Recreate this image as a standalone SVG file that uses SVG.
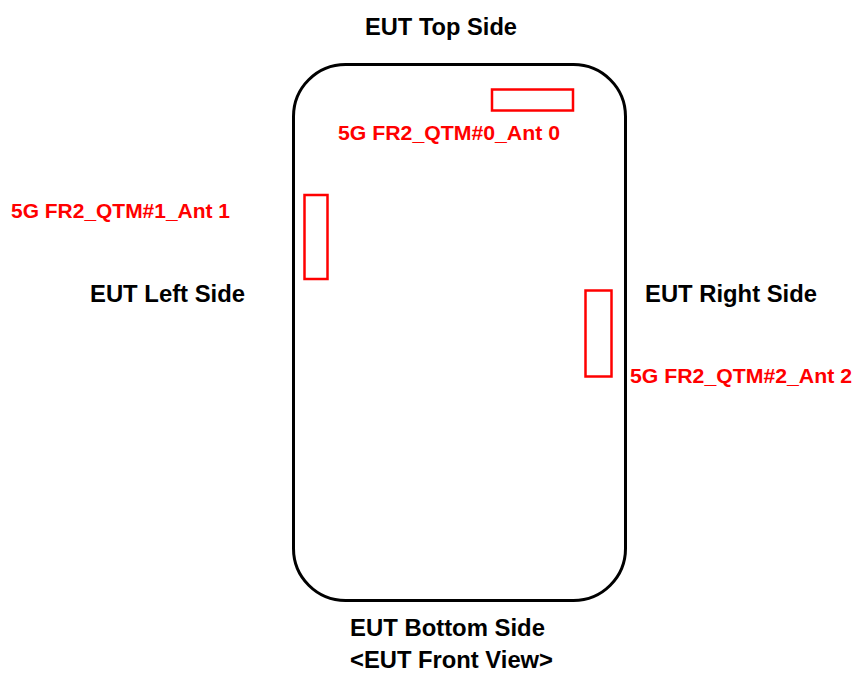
<svg xmlns="http://www.w3.org/2000/svg" width="856" height="673" viewBox="0 0 856 673">
<style>
.lbl{font-family:"Liberation Sans",Arial,sans-serif;font-weight:bold;font-size:23px;fill:#000}
.ant{font-family:"Liberation Sans",Arial,sans-serif;font-weight:bold;font-size:20px;fill:#ff0000}
.box{fill:none;stroke:#ff0000;stroke-width:2.5}
</style>
<rect width="856" height="673" fill="#fff"/>
<g id="eut">
<rect x="293.5" y="64.5" width="332" height="536" rx="52" ry="52" fill="none" stroke="#000" stroke-width="3"/>
</g>
<g id="ant0">
<rect class="box" x="492" y="89.5" width="81" height="21"/>
<text class="ant" x="338" y="139.5" textLength="222" lengthAdjust="spacingAndGlyphs">5G FR2_QTM#0_Ant 0</text>
</g>
<g id="ant1">
<rect class="box" x="304.5" y="195" width="23" height="84"/>
<text class="ant" x="11" y="218" textLength="219" lengthAdjust="spacingAndGlyphs">5G FR2_QTM#1_Ant 1</text>
</g>
<g id="ant2">
<rect class="box" x="585.5" y="290.5" width="26" height="86"/>
<text class="ant" x="630" y="382.5" textLength="222" lengthAdjust="spacingAndGlyphs">5G FR2_QTM#2_Ant 2</text>
</g>
<g id="labels">
<text class="lbl" x="365" y="35" textLength="152" lengthAdjust="spacingAndGlyphs">EUT Top Side</text>
<text class="lbl" x="90" y="302" textLength="155" lengthAdjust="spacingAndGlyphs">EUT Left Side</text>
<text class="lbl" x="645" y="302" textLength="172" lengthAdjust="spacingAndGlyphs">EUT Right Side</text>
<text class="lbl" x="350" y="636" textLength="195" lengthAdjust="spacingAndGlyphs">EUT Bottom Side</text>
<text class="lbl" x="350" y="668" textLength="203" lengthAdjust="spacingAndGlyphs">&lt;EUT Front View&gt;</text>
</g>
<g id="connectors"/>
</svg>
